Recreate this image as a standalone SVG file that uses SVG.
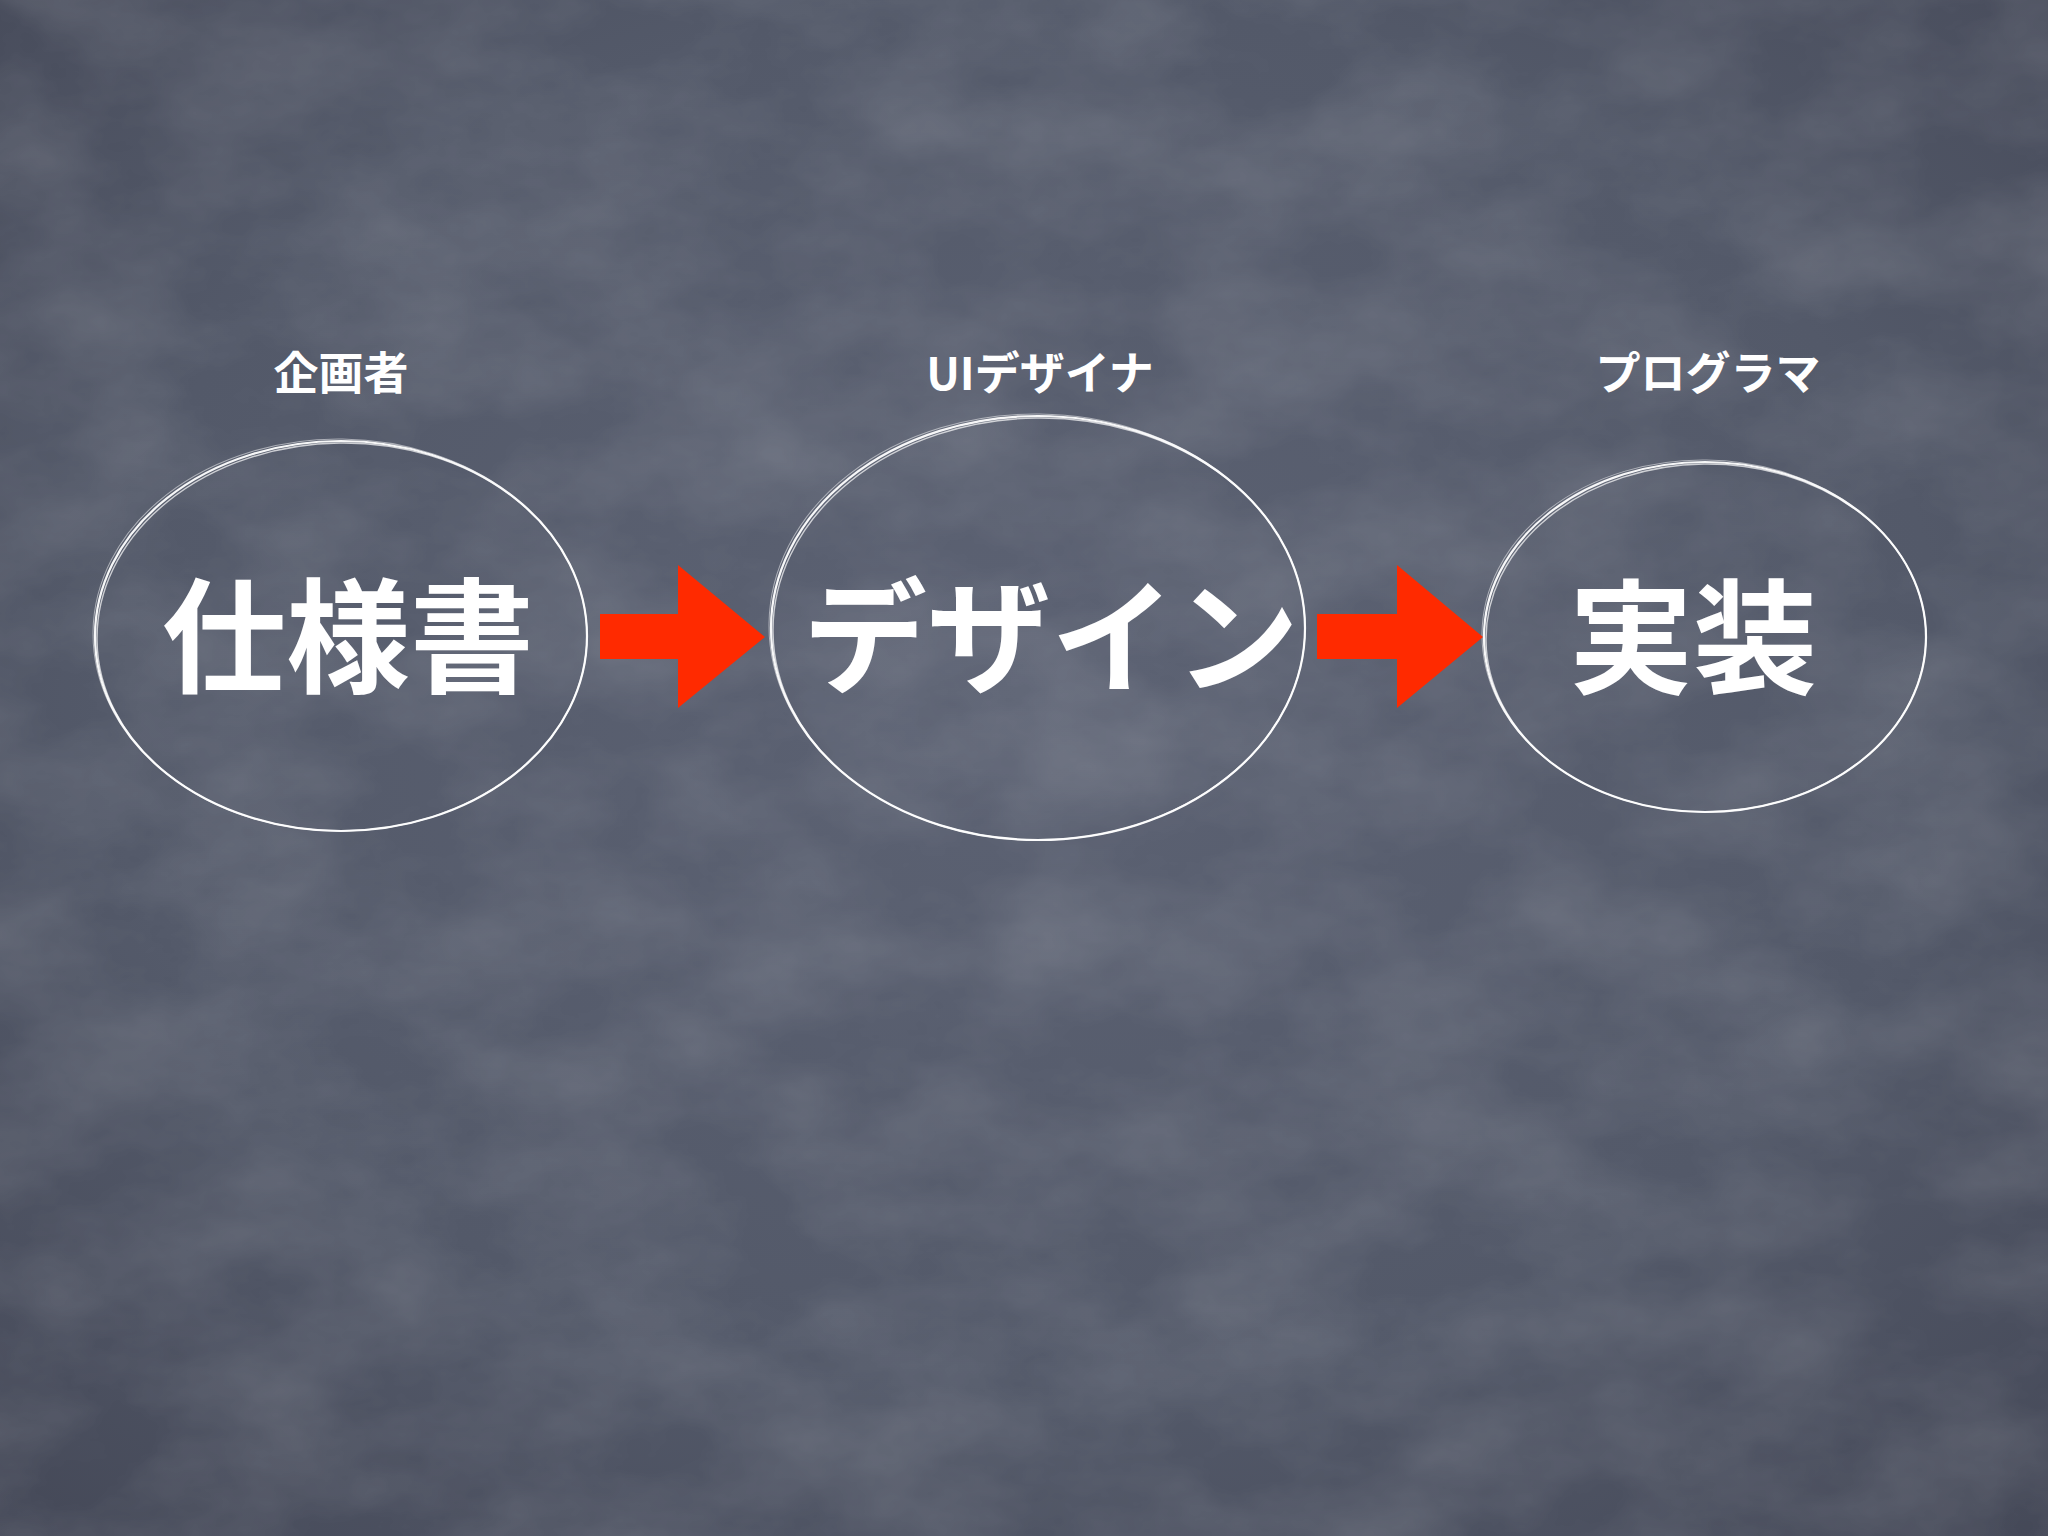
<svg xmlns="http://www.w3.org/2000/svg" width="2048" height="1536" viewBox="0 0 2048 1536">
  <defs>
    <radialGradient id="bg" cx="0.5" cy="0.45" r="0.75">
      <stop offset="0" stop-color="#5c6273"/>
      <stop offset="0.6" stop-color="#535969"/>
      <stop offset="1" stop-color="#444857"/>
    </radialGradient>
    <filter id="chalk" x="0" y="0" width="100%" height="100%">
      <feTurbulence type="fractalNoise" baseFrequency="0.006 0.01" numOctaves="5" seed="7" result="n"/>
      <feColorMatrix in="n" type="matrix" values="0 0 0 0 1  0 0 0 0 1  0 0 0 0 1  0 0 0 0.2 -0.06" result="w"/>
      <feComposite in="w" in2="SourceGraphic" operator="in"/>
    </filter>
    <style>
      .ring { fill: none; stroke: #ffffff; }
      .r1 { stroke-width: 2.2; stroke-opacity: 0.95; }
      .r2 { stroke-width: 1.4; stroke-opacity: 0.7; }
      .r3 { stroke-width: 1; stroke-opacity: 0.5; }
      .big { font-family: "Noto Sans CJK JP", "Noto Sans", sans-serif; font-weight: 700; font-size: 124px; fill: #ffffff; text-anchor: middle; }
      .role { font-family: "Noto Sans CJK JP", "Noto Sans", sans-serif; font-weight: 700; font-size: 45px; fill: #ffffff; text-anchor: middle; }
      .arrow { fill: #ff2a00; }
    </style>
  </defs>

  <rect width="2048" height="1536" fill="url(#bg)"/>
  <rect width="2048" height="1536" fill="#ffffff" filter="url(#chalk)"/>

  <g id="node-spec">
    <ellipse class="ring r1" cx="341" cy="636" rx="246" ry="195"/>
    <ellipse class="ring r2" cx="342" cy="637" rx="245" ry="194" transform="rotate(-0.8 342 637)"/>
    <ellipse class="ring r3" cx="340" cy="635" rx="247" ry="196" transform="rotate(0.7 340 635)"/>
    <text class="role" x="341" y="390">企画者</text>
    <text class="big" x="348" y="683">仕様書</text>
  </g>

  <g id="node-design">
    <ellipse class="ring r1" cx="1038" cy="628" rx="267" ry="212"/>
    <ellipse class="ring r2" cx="1039" cy="629" rx="266" ry="211" transform="rotate(-0.8 1039 629)"/>
    <ellipse class="ring r3" cx="1037" cy="627" rx="268" ry="213" transform="rotate(0.7 1037 627)"/>
    <text class="role" x="1040" y="390">UIデザイナ</text>
    <text class="big" x="1051" y="683">デザイン</text>
  </g>

  <g id="node-impl">
    <ellipse class="ring r1" cx="1705" cy="637" rx="221" ry="175"/>
    <ellipse class="ring r2" cx="1706" cy="638" rx="220" ry="174" transform="rotate(-0.8 1706 638)"/>
    <ellipse class="ring r3" cx="1704" cy="636" rx="222" ry="176" transform="rotate(0.7 1704 636)"/>
    <text class="role" x="1708" y="390">プログラマ</text>
    <text class="big" x="1693" y="684">実装</text>
  </g>

  <g id="connectors">
    <polygon class="arrow" points="600,614 678,614 678,565 765,637 678,708 678,659 600,659"/>
    <polygon class="arrow" points="1317,614 1397,614 1397,565 1483,637 1397,708 1397,659 1317,659"/>
  </g>
</svg>
